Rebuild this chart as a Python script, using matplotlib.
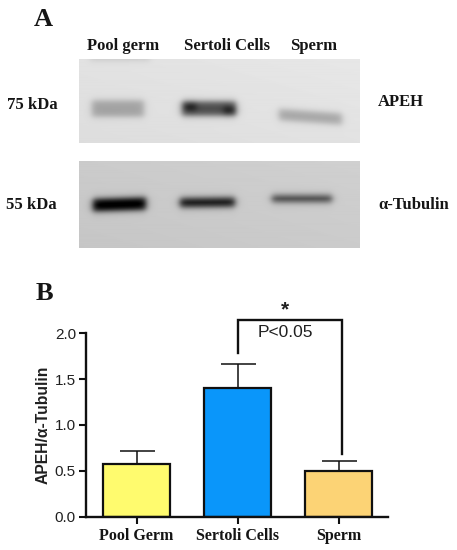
"""Western blot panel and densitometry bars for APEH / alpha-tubulin."""

import numpy as np
import matplotlib
matplotlib.use('Agg')
import matplotlib.pyplot as plt

W, H = 457, 550

# bar chart values
groups = ['Pool Germ', 'Sertoli Cells', 'Sperm']
means = [0.57, 1.40, 0.50]
errors = [0.15, 0.26, 0.11]
bar_colors = ['#FFFB6E', '#0A96FA', '#FCD375']
y_ticks = [0.0, 0.5, 1.0, 1.5, 2.0]

# blot lanes
lanes = ['Pool germ', 'Sertoli Cells', 'Sperm']
lane_x = [123, 227, 314]
# x0, x1, y centre, half thickness, darkness, slope
apeh_bands = [(92, 144, 109, 8, 62, 0.0),
              (90, 150, 60, 1.5, 25, 0.0),
              (182, 236, 109, 7, 150, 0.0),
              (184, 196, 107, 4, 55, 0.0),
              (224, 236, 111, 4, 55, 0.0),
              (279, 342, 115, 5.5, 60, 0.07)]
tubulin_bands = [(93, 146, 206, 6, 215, -0.03),
                 (180, 235, 203.5, 4.5, 185, -0.01),
                 (272, 332, 199.5, 3.5, 135, 0.0)]


def blot(x0, x1, y0, y1, base, bands):
    """Grey image of a blot strip in pixel coordinates."""
    xx, yy = np.meshgrid(np.arange(x0, x1, 0.5), np.arange(y0, y1, 0.5))
    img = np.full(xx.shape, float(base))
    img += 5 * (xx - x0) / (x1 - x0) - 5 * (yy - y0) / (y1 - y0)
    for a, b, yc, half, dark, slope in bands:
        across = 1 / (1 + np.exp((a - xx) / 2.0)) / (1 + np.exp((xx - b) / 2.0))
        dist = np.abs(yy - yc - slope * (xx - a))
        img -= dark * across / (1 + np.exp((dist - half) / 1.8))
    return np.clip(img, 0, 255)


fig = plt.figure(figsize=(W / 100, H / 100), dpi=100)

# pixel overlay for panel A and the letters
over = fig.add_axes([0, 0, 1, 1])
over.set_xlim(0, W)
over.set_ylim(H, 0)
over.axis('off')

over.imshow(blot(79.3, 360, 60, 143.5, 226, apeh_bands), cmap='gray', vmin=0, vmax=255,
            extent=(79.3, 360, 143.5, 60), aspect='auto', interpolation='bilinear')
over.imshow(blot(79.3, 360, 162.3, 248.5, 203, tubulin_bands), cmap='gray', vmin=0, vmax=255,
            extent=(79.3, 360, 248.5, 162.3), aspect='auto', interpolation='bilinear')
over.set_xlim(0, W)
over.set_ylim(H, 0)

serif = {'family': 'Liberation Serif', 'weight': 'bold', 'color': '#151515'}
over.text(43, 20, 'A', fontsize=19, ha='center', va='center', **serif)
over.text(44, 293, 'B', fontsize=19, ha='center', va='center', **serif)
for name, x in zip(lanes, lane_x):
    over.text(x, 46, name, fontsize=12, ha='center', va='center', **serif)
over.text(7, 105, '75 kDa', fontsize=12, ha='left', va='center', **serif)
over.text(6, 205, '55 kDa', fontsize=12, ha='left', va='center', **serif)
over.text(378, 102, 'APEH', fontsize=12, ha='left', va='center', **serif)
over.text(378, 205, '\u03b1-Tubulin', fontsize=12, ha='left', va='center', **serif)

# panel B
ax = fig.add_axes([85.7 / W, (H - 516.7) / H, (388 - 85.7) / W, (516.7 - 333.3) / H])
ax.patch.set_alpha(0)
x = np.arange(len(groups))
ax.bar(x, means, width=0.67, color=bar_colors, edgecolor='#101010', linewidth=1.6, zorder=2)
ax.errorbar(x, means, yerr=[np.zeros(3), errors], fmt='none', ecolor='#101010',
            elinewidth=1.1, capsize=12.6, capthick=1.1, zorder=1)

ax.set_xlim(-0.503, 2.49)
ax.set_ylim(0, 2)
ax.set_yticks(y_ticks)
ax.set_yticklabels([f'{v:.1f}' for v in y_ticks], family='Liberation Sans', fontsize=11, color='#202020')
ax.set_xticks(x)
ax.set_xticklabels(groups, fontsize=11.5, **serif)
ax.tick_params(axis='both', length=5, width=1.5, color='#101010', pad=2)
ax.tick_params(axis='x', pad=3)
for side in ['top', 'right']:
    ax.spines[side].set_visible(False)
for side in ['left', 'bottom']:
    ax.spines[side].set_linewidth(1.7)
    ax.spines[side].set_color('#101010')
ax.set_ylabel('APEH/\u03b1-Tubulin', family='Liberation Sans', weight='bold', fontsize=11.3, color='#202020', labelpad=3)

# significance bracket
ax.plot([1, 1, 2.03, 2.03], [1.785, 2.15, 2.15, 0.685], color='#101010', linewidth=1.7,
        clip_on=False, solid_joinstyle='miter', zorder=3)
ax.text(1.47, 2.01, 'P<0.05', family='Liberation Sans', fontsize=12.5, ha='center', va='center', color='#202020')
ax.text(1.47, 2.25, '*', family='Liberation Sans', weight='bold', fontsize=15, ha='center', va='center', color='#202020')

fig.savefig('out.png', dpi=100)
